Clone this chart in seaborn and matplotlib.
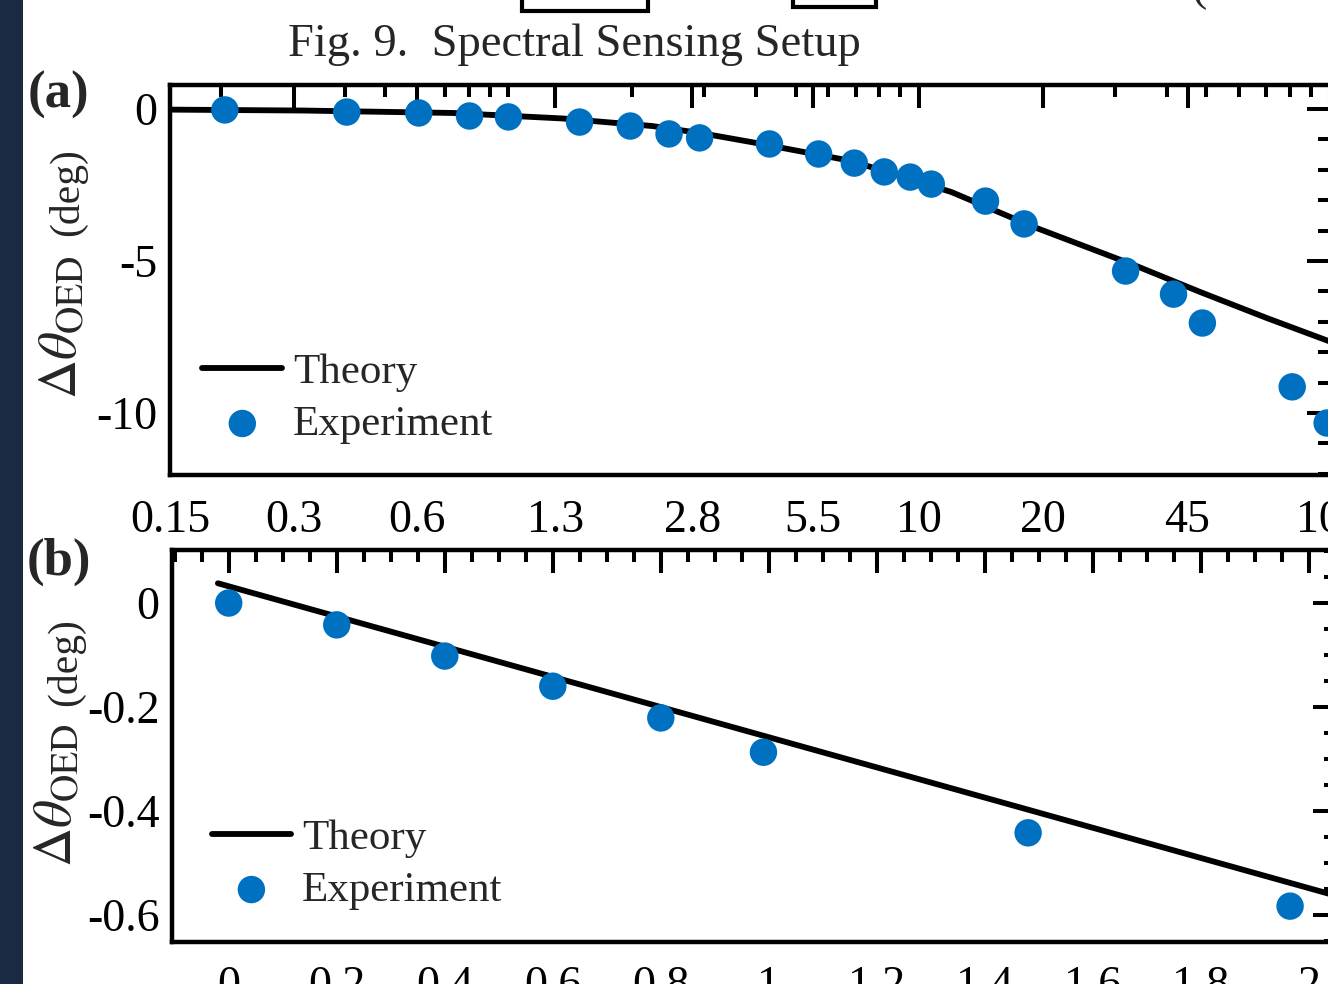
import numpy as np
import pandas as pd
import matplotlib.pyplot as plt
import matplotlib.ticker as mticker
from matplotlib.patches import Rectangle
import seaborn as sns

# ---- panel (a): log sweep ----
theory_a_x = [0.15, 0.316, 0.731, 1.35, 2.24, 2.96, 3.91, 6.84, 11.97, 19.0, 33.3, 48.3, 70.3, 100.0]
theory_a_y = [-0.02, -0.05, -0.13, -0.31, -0.56, -0.80, -1.09, -1.71, -2.73, -3.88, -5.13, -6.02, -6.88, -7.65]
exp_a_x = [0.204, 0.404, 0.605, 0.804, 1.0, 1.49, 1.98, 2.46, 2.92, 4.32, 5.69, 6.95, 8.22,
           9.51, 10.7, 14.5, 18.0, 31.8, 41.6, 48.9, 80.9, 98.4]
exp_a_y = [-0.03, -0.10, -0.13, -0.23, -0.26, -0.43, -0.56, -0.82, -0.95, -1.15, -1.48, -1.78, -2.07,
           -2.24, -2.47, -3.03, -3.78, -5.33, -6.09, -7.04, -9.14, -10.33]
a_xticks = [0.15, 0.3, 0.6, 1.3, 2.8, 5.5, 10, 20, 45, 100]
a_xticklabels = ['0.15', '0.3', '0.6', '1.3', '2.8', '5.5', '10', '20', '45', '100']
a_yticks = [0, -5, -10]
a_yticklabels = ['0', '-5', '-10']

# ---- panel (b): linear sweep ----
theory_b_x = [-0.02, 2.05]
theory_b_y = [0.038, -0.563]
exp_b_x = [0.0, 0.2, 0.4, 0.6, 0.8, 0.99, 1.48, 1.965]
exp_b_y = [0.0, -0.042, -0.102, -0.160, -0.221, -0.287, -0.442, -0.583]
b_xticks = [0, 0.2, 0.4, 0.6, 0.8, 1.0, 1.2, 1.4, 1.6, 1.8, 2.0]
b_xticklabels = ['0', '0.2', '0.4', '0.6', '0.8', '1', '1.2', '1.4', '1.6', '1.8', '2']
b_yticks = [0, -0.2, -0.4, -0.6]
b_yticklabels = ['0', '-0.2', '-0.4', '-0.6']

BLUE = '#0070C0'
FS = 33

sns.set_style('white')
plt.rcParams['font.family'] = ['Liberation Serif', 'DejaVu Serif']
plt.rcParams['mathtext.fontset'] = 'stix'
plt.rcParams['axes.unicode_minus'] = False

fig = plt.figure(figsize=(13.28, 9.84), dpi=100)
W, H = 1328, 984

ax_a = fig.add_axes([170 / W, 1 - 475 / H, 1160 / W, 390 / H])
ax_b = fig.add_axes([172 / W, 1 - 942 / H, 1164 / W, 392 / H])

df_ta = pd.DataFrame({'x': theory_a_x, 'y': theory_a_y})
df_ea = pd.DataFrame({'x': exp_a_x, 'y': exp_a_y})
df_tb = pd.DataFrame({'x': theory_b_x, 'y': theory_b_y})
df_eb = pd.DataFrame({'x': exp_b_x, 'y': exp_b_y})

for ax, dt, de in [(ax_a, df_ta, df_ea), (ax_b, df_tb, df_eb)]:
    sns.lineplot(data=dt, x='x', y='y', ax=ax, color='black', linewidth=4.2,
                 label='Theory', sort=False)
    sns.scatterplot(data=de, x='x', y='y', ax=ax, color=BLUE, s=390,
                    edgecolor='none', label='Experiment', zorder=3)
    ax.set_xlabel('')
    ax.set_ylabel('')
    for sp in ax.spines.values():
        sp.set_linewidth(3.2)
        sp.set_color('black')
    ax.tick_params(which='both', direction='in', top=True, right=True,
                   width=2.9, colors='black', labelsize=FS)
    ax.tick_params(which='major', length=16.5)
    ax.tick_params(which='minor', length=8.6)
    ax.tick_params(axis='y', pad=9)

# panel (a) axes
ax_a.set_xscale('log')
ax_a.set_xlim(0.15, 100)
ax_a.set_ylim(-12.04, 0.79)
ax_a.xaxis.set_major_locator(mticker.FixedLocator(a_xticks))
ax_a.xaxis.set_major_formatter(mticker.FixedFormatter(a_xticklabels))
ax_a.xaxis.set_minor_locator(mticker.LogLocator(base=10, subs=np.arange(1, 10), numticks=20))
ax_a.xaxis.set_minor_formatter(mticker.NullFormatter())
ax_a.set_yticks(a_yticks, a_yticklabels)
ax_a.yaxis.set_minor_locator(mticker.MultipleLocator(1))
ax_a.tick_params(axis='x', pad=18)

# panel (b) axes
ax_b.set_xlim(-0.105, 2.05)
ax_b.set_ylim(-0.652, 0.102)
ax_b.set_xticks(b_xticks, b_xticklabels)
ax_b.xaxis.set_minor_locator(mticker.MultipleLocator(0.05))
ax_b.set_yticks(b_yticks, b_yticklabels)
ax_b.yaxis.set_minor_locator(mticker.MultipleLocator(0.05))
ax_b.tick_params(axis='x', pad=17)

leg_kw = dict(loc='lower left', frameon=False, fontsize=31, handlelength=1.85,
              handletextpad=0.25, labelspacing=0.3, borderpad=0, borderaxespad=0)
ax_a.legend(bbox_to_anchor=(0.028, 0.08), **leg_kw)
ax_b.legend(bbox_to_anchor=(0.034, 0.082), **leg_kw)

# y labels
fig.text(63 / W, 1 - 327 / H, r'$\Delta\theta_{\mathrm{OED}}$', rotation=90,
         ha='center', va='center', fontsize=39)
fig.text(68 / W, 1 - 192 / H, '(deg)', rotation=90, ha='center', va='center', fontsize=30)
fig.text(58 / W, 1 - 795 / H, r'$\Delta\theta_{\mathrm{OED}}$', rotation=90,
         ha='center', va='center', fontsize=39)
fig.text(66 / W, 1 - 662 / H, '(deg)', rotation=90, ha='center', va='center', fontsize=30)

# panel letters and title
fig.text(58 / W, 1 - 95 / H, '(a)', ha='center', va='center', fontsize=38, fontweight='bold')
fig.text(59 / W, 1 - 562 / H, '(b)', ha='center', va='center', fontsize=38, fontweight='bold')
fig.text(574 / W, 1 - 45 / H, 'Fig. 9.  Spectral Sensing Setup', ha='center', va='center',
         fontsize=33.5)

# page fragments around the cropped figure
fig.add_artist(Rectangle((0, 0), 23 / W, 1, transform=fig.transFigure,
                         facecolor='#1b2a43', edgecolor='none'))
fig.add_artist(Rectangle((522 / W, 1 - 11 / H), 126 / W, 0.05, transform=fig.transFigure,
                         facecolor='white', edgecolor='black', linewidth=3))
fig.add_artist(Rectangle((793 / W, 1 - 7 / H), 83 / W, 0.05, transform=fig.transFigure,
                         facecolor='white', edgecolor='black', linewidth=3))
fig.text(1200 / W, 1 - 10 / H, '(', ha='center', va='bottom', fontsize=FS)

plt.savefig('out.png', dpi=100)
